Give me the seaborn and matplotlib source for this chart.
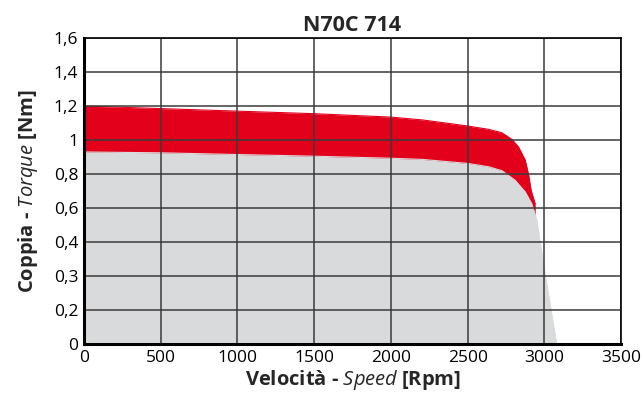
import numpy as np
import pandas as pd
import matplotlib
matplotlib.use("Agg")
import matplotlib.pyplot as plt
import seaborn as sns

# valori
speed_rated = [0, 500, 1000, 1500, 2000, 2208, 2506, 2636, 2723, 2809, 2875, 2918, 2950, 3004, 3080]
torque_rated = [0.93, 0.925, 0.915, 0.905, 0.893, 0.886, 0.862, 0.843, 0.82, 0.764, 0.695, 0.625, 0.53, 0.308, 0.0]

speed_peak = [0, 500, 1000, 1500, 2000, 2208, 2506, 2636, 2723, 2788, 2831, 2875, 2896, 2914, 2940]
torque_peak = [1.2, 1.185, 1.17, 1.155, 1.135, 1.118, 1.082, 1.063, 1.043, 1.004, 0.96, 0.882, 0.8, 0.702, 0.625]

# asse y non lineare: etichette equidistanti
ytick_vals = [0, 0.2, 0.3, 0.4, 0.6, 0.8, 1, 1.2, 1.4, 1.6]
ytick_labels = ["0", "0,2", "0,3", "0,4", "0,6", "0,8", "1", "1,2", "1,4", "1,6"]
xtick_vals = [0, 500, 1000, 1500, 2000, 2500, 3000, 3500]

pos = np.arange(len(ytick_vals), dtype=float)


def fwd(y):
    return np.interp(y, ytick_vals, pos)


def inv(p):
    return np.interp(p, pos, ytick_vals)


sns.set_style("white")
plt.rcParams["font.family"] = ["Open Sans", "DejaVu Sans"]
plt.rcParams["mathtext.fontset"] = "custom"
plt.rcParams["mathtext.it"] = "Open Sans:italic"
plt.rcParams["mathtext.rm"] = "Open Sans"

fig = plt.figure(figsize=(6.41, 3.96), dpi=100)
ax = fig.add_axes([0.131, 0.131, 0.838, 0.773])
ax.set_yscale("function", functions=(fwd, inv))

red = "#E2001A"
grey = "#D9DADB"

peak = pd.DataFrame({"speed": speed_peak, "torque": torque_peak})
rated = pd.DataFrame({"speed": speed_rated, "torque": torque_rated})

# picco (rosso) sotto, nominale (grigio) sopra
ax.fill_between(peak["speed"], 0, peak["torque"], color=red, lw=0, zorder=1)
sns.lineplot(data=peak, x="speed", y="torque", color=red, lw=0.8, ax=ax, zorder=1)
ax.fill_between(rated["speed"], 0, rated["torque"], color=grey, lw=0, zorder=2)
sns.lineplot(data=rated, x="speed", y="torque", color=grey, lw=0.8, ax=ax, zorder=2)

ax.set_xlim(0, 3500)
ax.set_ylim(0, 1.6)
ax.set_xticks(xtick_vals)
ax.set_xticklabels([str(v) for v in xtick_vals])
ax.set_yticks(ytick_vals)
ax.set_yticklabels(ytick_labels)
ax.minorticks_off()

ax.grid(True, color="#3a3a3a", lw=1.1, zorder=3)
ax.set_axisbelow(False)
for s in ax.spines.values():
    s.set_color("black")
    s.set_zorder(4)
ax.spines["left"].set_linewidth(2.2)
ax.spines["bottom"].set_linewidth(2.2)
ax.spines["top"].set_linewidth(1.2)
ax.spines["right"].set_linewidth(1.2)

ax.tick_params(axis="both", labelsize=12.5, length=0, pad=4, colors="black")

ax.set_title("N70C 714", fontsize=15.5, fontweight="bold", pad=5)
ax.set_xlabel("Velocità - $\\mathit{Speed}$ [Rpm]", fontsize=14.5, fontweight="bold", labelpad=2)
ax.set_ylabel("Coppia - $\\mathit{Torque}$ [Nm]", fontsize=14.5, fontweight="bold", labelpad=10)

fig.savefig("out.png", dpi=100)
